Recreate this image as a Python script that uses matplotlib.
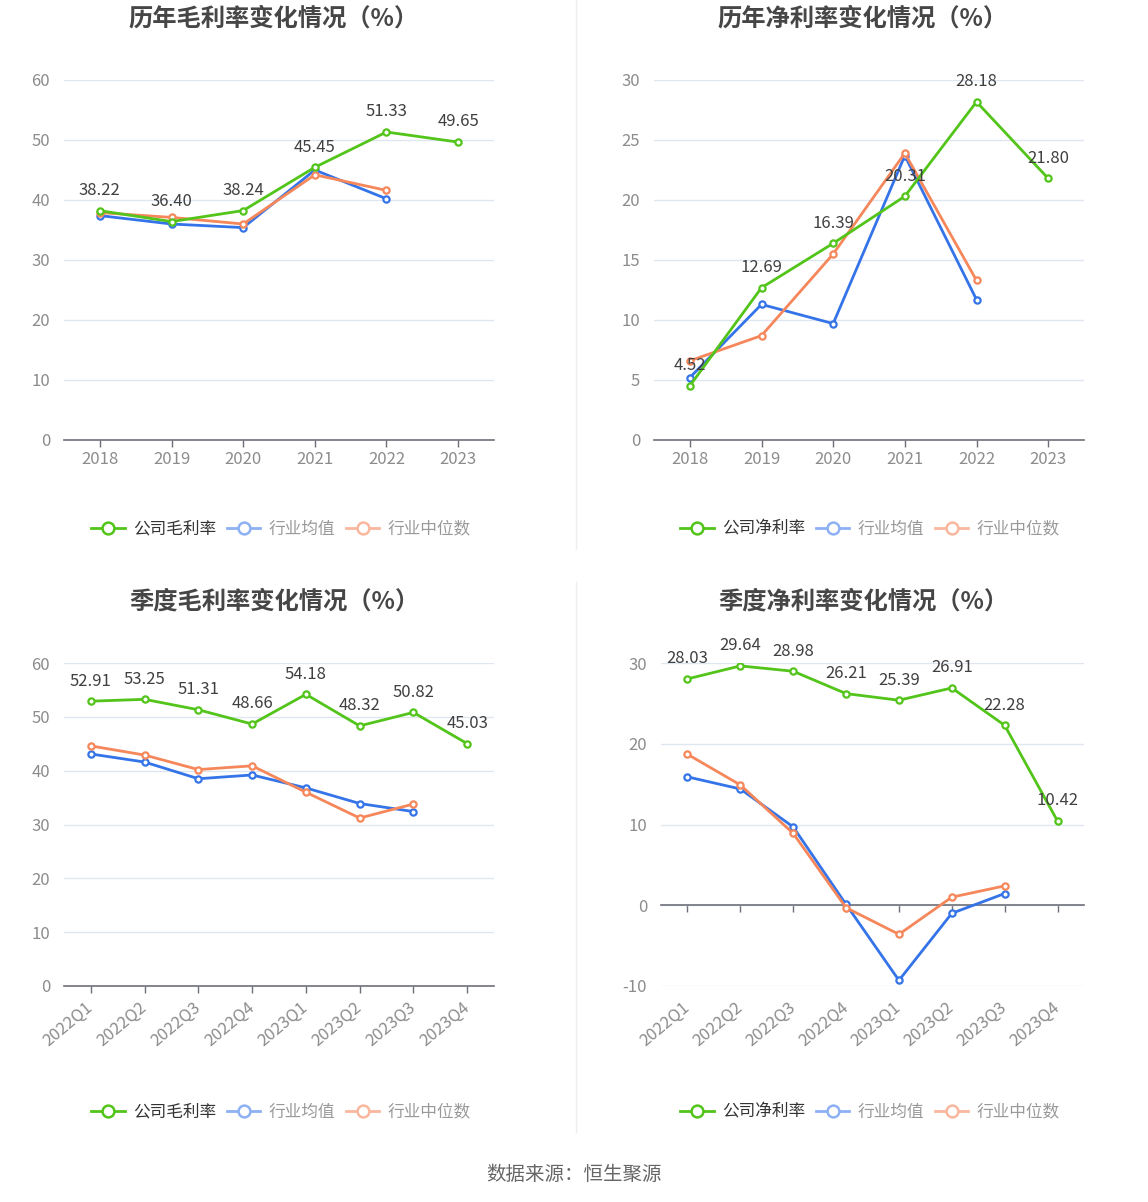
import matplotlib
matplotlib.use("Agg")
import matplotlib.pyplot as plt
from matplotlib.lines import Line2D

plt.rcParams['font.family'] = ['Noto Sans CJK SC', 'DejaVu Sans']
plt.rcParams['axes.unicode_minus'] = False

# ---------------- data ----------------
years = ['2018', '2019', '2020', '2021', '2022', '2023']
gross_company = [38.22, 36.40, 38.24, 45.45, 51.33, 49.65]
gross_ind_mean = [37.4, 36.0, 35.4, 45.0, 40.2]
gross_ind_median = [37.9, 37.1, 36.0, 44.2, 41.6]

net_company = [4.52, 12.69, 16.39, 20.31, 28.18, 21.80]
net_ind_mean = [5.2, 11.3, 9.7, 23.7, 11.7]
net_ind_median = [6.6, 8.7, 15.5, 23.9, 13.3]

quarters = ['2022Q1', '2022Q2', '2022Q3', '2022Q4', '2023Q1', '2023Q2', '2023Q3', '2023Q4']
q_gross_company = [52.91, 53.25, 51.31, 48.66, 54.18, 48.32, 50.82, 45.03]
q_gross_ind_mean = [43.1, 41.6, 38.5, 39.2, 36.8, 33.9, 32.4]
q_gross_ind_median = [44.6, 42.9, 40.2, 40.9, 36.0, 31.2, 33.8]

q_net_company = [28.03, 29.64, 28.98, 26.21, 25.39, 26.91, 22.28, 10.42]
q_net_ind_mean = [15.9, 14.4, 9.7, 0.1, -9.3, -1.0, 1.45]
q_net_ind_median = [18.7, 14.9, 8.9, -0.3, -3.6, 1.0, 2.4]

titles = ['历年毛利率变化情况（%）', '历年净利率变化情况（%）',
          '季度毛利率变化情况（%）', '季度净利率变化情况（%）']
legend_names = [['公司毛利率', '行业均值', '行业中位数'],
                ['公司净利率', '行业均值', '行业中位数'],
                ['公司毛利率', '行业均值', '行业中位数'],
                ['公司净利率', '行业均值', '行业中位数']]
source_text = '数据来源：恒生聚源'

GREEN = '#52C41A'
BLUE = '#3474E8'
ORANGE = '#F5875B'
GRID = '#E0E6F1'
AXIS = '#6E7079'
TICK_TXT = '#8C8C8C'
LABEL_TXT = '#404040'

W, H = 1148, 1202
fig = plt.figure(figsize=(W / 100, H / 100), dpi=100)


def fx(px):
    return px / W


def fy(py):
    return 1 - py / H


def make_ax(left, right, top, bottom):
    return fig.add_axes([fx(left), fy(bottom), fx(right) - fx(left), fy(top) - fy(bottom)])


ax1 = make_ax(64, 494, 80, 440)
ax2 = make_ax(654, 1084, 80, 440)
ax3 = make_ax(64, 494, 663, 986)
ax4 = make_ax(661, 1084, 663, 986)

configs = [
    (ax1, years, gross_company, gross_ind_mean, gross_ind_median, (0, 60), [0, 10, 20, 30, 40, 50, 60], False),
    (ax2, years, net_company, net_ind_mean, net_ind_median, (0, 30), [0, 5, 10, 15, 20, 25, 30], False),
    (ax3, quarters, q_gross_company, q_gross_ind_mean, q_gross_ind_median, (0, 60), [0, 10, 20, 30, 40, 50, 60], True),
    (ax4, quarters, q_net_company, q_net_ind_mean, q_net_ind_median, (-10, 30), [-10, 0, 10, 20, 30], True),
]

title_pos = [(274, 18.5), (863, 18.5), (274, 601.5), (863, 601.5)]
legend_pos = [(281, 529), (870, 529), (281, 1112), (870, 1112)]

FS = 12

for i, (ax, cats, comp, mean, med, ylim, yticks, rotated) in enumerate(configs):
    xs = list(range(len(cats)))
    for s in ax.spines.values():
        s.set_visible(False)
    ax.set_xlim(-0.5, len(cats) - 0.5)
    ax.set_ylim(*ylim)
    ax.set_yticks(yticks)
    ax.yaxis.grid(True, color=GRID, linewidth=1.0)
    ax.set_axisbelow(True)
    ax.tick_params(axis='y', length=0, pad=10, labelsize=FS, labelcolor=TICK_TXT)

    mk = dict(marker='o', markersize=4.5, markerfacecolor='white', markeredgewidth=1.6, linewidth=2.0)
    ax.plot(list(range(len(mean))), mean, color=BLUE, markeredgecolor=BLUE, zorder=3, **mk)
    ax.plot(list(range(len(med))), med, color=ORANGE, markeredgecolor=ORANGE, zorder=4, **mk)
    ax.plot(xs, comp, color=GREEN, markeredgecolor=GREEN, zorder=5, **mk)
    for x, v in zip(xs, comp):
        ax.annotate(f'{v:.2f}', (x, v), xytext=(0, 14.5), textcoords='offset points',
                    ha='center', va='center', fontsize=FS, color=LABEL_TXT, zorder=6)

    ax.set_xticks(xs)
    if ylim[0] < 0:
        ax.spines['bottom'].set_visible(True)
        ax.spines['bottom'].set_position(('data', 0))
        ax.spines['bottom'].set_color(AXIS)
        ax.spines['bottom'].set_linewidth(1.2)
        ax.tick_params(axis='x', length=5, color=AXIS, width=1, labelbottom=False)
        sec = ax.secondary_xaxis('bottom')
        sec.set_xticks(xs)
        sec.set_xticklabels(cats, rotation=40, ha='right', va='center', rotation_mode='anchor')
        sec.tick_params(length=0, pad=14, labelsize=FS, labelcolor=TICK_TXT)
        for s in sec.spines.values():
            s.set_visible(False)
    else:
        ax.spines['bottom'].set_visible(True)
        ax.spines['bottom'].set_color(AXIS)
        ax.spines['bottom'].set_linewidth(1.2)
        ax.tick_params(axis='x', length=5, color=AXIS, width=1, labelsize=FS, labelcolor=TICK_TXT)
        if rotated:
            ax.set_xticklabels(cats, rotation=40, ha='right', va='center', rotation_mode='anchor')
            ax.tick_params(axis='x', pad=9)
        else:
            ax.set_xticklabels(cats)
            ax.tick_params(axis='x', pad=3)

    tx, ty = title_pos[i]
    fig.text(fx(tx), fy(ty), titles[i], ha='center', va='center', fontsize=17.5,
             fontweight='bold', color='#464646')

    names = legend_names[i]
    hmk = dict(marker='o', markersize=8.5, markerfacecolor='white', markeredgewidth=1.8, linewidth=2.0)
    handles = [
        Line2D([], [], color=GREEN, markeredgecolor=GREEN, **hmk),
        Line2D([], [], color='#8EB1F3', markeredgecolor='#8EB1F3', **hmk),
        Line2D([], [], color='#F9B79D', markeredgecolor='#F9B79D', **hmk),
    ]
    lx, ly = legend_pos[i]
    leg = ax.legend(handles, names, loc='center', bbox_to_anchor=(fx(lx), fy(ly)),
                    bbox_transform=fig.transFigure, ncol=3, frameon=False, fontsize=12,
                    handlelength=2.0, handletextpad=0.5, columnspacing=0.65)
    for j, t in enumerate(leg.get_texts()):
        t.set_color('#333333' if j == 0 else '#999999')

# dividers
fig.add_artist(Line2D([fx(576), fx(576)], [fy(0), fy(549)], color='#EEEEEE', linewidth=1))
fig.add_artist(Line2D([fx(576), fx(576)], [fy(582), fy(1132)], color='#EEEEEE', linewidth=1))

fig.text(0.5, fy(1175), source_text, ha='center', va='center', fontsize=14, color='#666666')

fig.savefig('out.png', dpi=100, facecolor='white')
